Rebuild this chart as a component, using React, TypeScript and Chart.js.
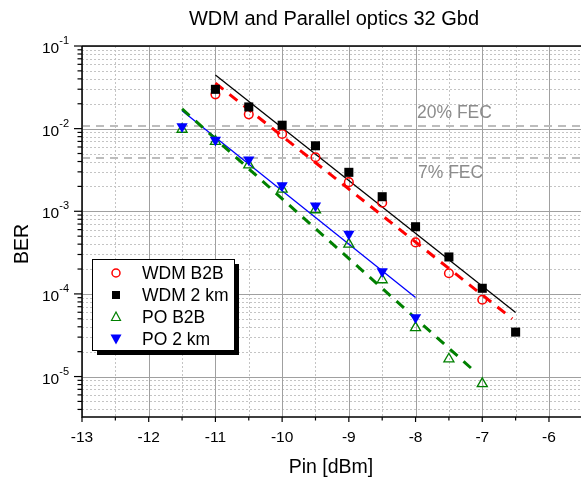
import React, { useEffect, useRef } from "react";
import { Chart, registerables } from "chart.js";

Chart.register(...registerables);

// ---- data ----
const xTicks = [-13, -12.5, -12, -11.5, -11, -10.5, -10, -9.5, -9, -8.5, -8, -7.5, -7, -6.5, -6];
const yTickExps = [-1, -2, -3, -4, -5];

const wdmX = [-11, -10.5, -10, -9.5, -9, -8.5, -8, -7.5, -7];
const wdmB2B = [0.026, 0.0149, 0.0086, 0.0045, 0.00225, 0.00127, 0.00042, 0.000178, 0.000085];

const wdm2kmX = [-11, -10.5, -10, -9.5, -9, -8.5, -8, -7.5, -7, -6.5];
const wdm2km = [0.0299, 0.0183, 0.011, 0.0062, 0.00296, 0.0015, 0.00065, 0.00028, 0.000117, 0.0000345];

const poB2BX = [-11.5, -11, -10.5, -10, -9.5, -9, -8.5, -8, -7.5, -7];
const poB2B = [0.0098, 0.007, 0.00364, 0.00185, 0.00104, 0.0004, 0.000148, 0.000039, 0.0000163, 0.0000082];

const po2kmX = [-11.5, -11, -10.5, -10, -9.5, -9, -8.5, -8];
const po2km = [0.0106, 0.0073, 0.0042, 0.00205, 0.00117, 0.00053, 0.000187, 0.000052];

const fitWdmB2BX = [-11, -6.55];
const fitWdmB2B = [0.0355, 0.00005];
const fitWdm2kmX = [-11, -6.5];
const fitWdm2km = [0.0446, 0.0000596];
const fitPoB2BX = [-11.5, -7.1];
const fitPoB2B = [0.0173, 0.0000113];
const fitPo2kmX = [-11.5, -8];
const fitPo2km = [0.0165, 0.0000906];

const fecLevels = [0.0108, 0.0044];
const fecLabels = ["20% FEC", "7% FEC"];

const legendLabels = ["WDM B2B", "WDM 2 km", "PO B2B", "PO 2 km"];

const FONT = "'Liberation Sans', Arial, sans-serif";

const pts = (xs: number[], ys: number[]) => xs.map((x, i) => ({ x, y: ys[i] }));

function drawMarker(ctx: CanvasRenderingContext2D, kind: number, x: number, y: number) {
  ctx.save();
  ctx.lineWidth = 1.5;
  if (kind === 0) {
    ctx.strokeStyle = "#ff0000";
    ctx.beginPath();
    ctx.arc(x, y, 4, 0, Math.PI * 2);
    ctx.stroke();
  } else if (kind === 1) {
    ctx.fillStyle = "#000";
    ctx.fillRect(x - 4, y - 4, 8, 8);
  } else if (kind === 2) {
    ctx.strokeStyle = "#008000";
    ctx.lineWidth = 1.2;
    ctx.beginPath();
    ctx.moveTo(x, y - 5);
    ctx.lineTo(x + 4.5, y + 3.5);
    ctx.lineTo(x - 4.5, y + 3.5);
    ctx.closePath();
    ctx.stroke();
  } else {
    ctx.fillStyle = "#0000ff";
    ctx.beginPath();
    ctx.moveTo(x, y + 5.5);
    ctx.lineTo(x + 5.5, y - 4.5);
    ctx.lineTo(x - 5.5, y - 4.5);
    ctx.closePath();
    ctx.fill();
  }
  ctx.restore();
}

const decorPlugin = {
  id: "decor",
  beforeDatasetsDraw(chart: any) {
    const ctx: CanvasRenderingContext2D = chart.ctx;
    const xs = chart.scales.x;
    const ys = chart.scales.y;
    const { left, right, top, bottom } = chart.chartArea;
    ctx.save();
    // minor y grid
    ctx.setLineDash([2, 2]);
    ctx.strokeStyle = "#c4c4c4";
    ctx.lineWidth = 1;
    for (let e = -6; e <= -2; e++) {
      for (let m = 2; m <= 9; m++) {
        const v = m * Math.pow(10, e);
        if (v < ys.min || v > ys.max) continue;
        const py = Math.round(ys.getPixelForValue(v)) + 0.5;
        ctx.beginPath();
        ctx.moveTo(left, py);
        ctx.lineTo(right, py);
        ctx.stroke();
      }
    }
    // minor x grid
    xTicks.forEach((v) => {
      if (Number.isInteger(v)) return;
      const px = Math.round(xs.getPixelForValue(v)) + 0.5;
      ctx.beginPath();
      ctx.moveTo(px, top);
      ctx.lineTo(px, bottom);
      ctx.stroke();
    });
    ctx.setLineDash([]);
    ctx.strokeStyle = "#a0a0a0";
    yTickExps.forEach((e) => {
      const py = Math.round(ys.getPixelForValue(Math.pow(10, e))) + 0.5;
      ctx.beginPath();
      ctx.moveTo(left, py);
      ctx.lineTo(right, py);
      ctx.stroke();
    });
    xTicks.forEach((v) => {
      if (!Number.isInteger(v)) return;
      const px = Math.round(xs.getPixelForValue(v)) + 0.5;
      ctx.beginPath();
      ctx.moveTo(px, top);
      ctx.lineTo(px, bottom);
      ctx.stroke();
    });
    // FEC lines
    ctx.strokeStyle = "#bdbdbd";
    ctx.lineWidth = 2;
    ctx.setLineDash([8, 6]);
    fecLevels.forEach((v) => {
      const py = ys.getPixelForValue(v);
      ctx.beginPath();
      ctx.moveTo(left, py);
      ctx.lineTo(right, py);
      ctx.stroke();
    });
    ctx.setLineDash([]);
    // FEC labels
    ctx.fillStyle = "#8c8c8c";
    ctx.font = `17.5px ${FONT}`;
    ctx.textAlign = "left";
    ctx.textBaseline = "middle";
    ctx.fillText(fecLabels[0], 417, 113);
    ctx.fillText(fecLabels[1], 418, 173);
    ctx.restore();
  },
  afterDatasetsDraw(chart: any) {
    const ctx: CanvasRenderingContext2D = chart.ctx;
    const xs = chart.scales.x;
    const ys = chart.scales.y;
    const { left, right, top, bottom } = chart.chartArea;
    ctx.save();
    // axes
    ctx.strokeStyle = "#000";
    ctx.lineWidth = 1.5;
    ctx.beginPath();
    ctx.moveTo(left, top);
    ctx.lineTo(right, top);
    ctx.moveTo(left, top);
    ctx.lineTo(left, bottom);
    ctx.lineTo(right, bottom);
    ctx.stroke();
    // y ticks
    ctx.lineWidth = 1.2;
    for (let e = -6; e <= -1; e++) {
      for (let m = 1; m <= 9; m++) {
        const v = m * Math.pow(10, e);
        if (v < ys.min * 0.999 || v > ys.max * 1.001) continue;
        const py = ys.getPixelForValue(v);
        const len = m === 1 ? 8 : 4.5;
        ctx.beginPath();
        ctx.moveTo(left, py);
        ctx.lineTo(left - len, py);
        ctx.stroke();
      }
    }
    // x ticks
    xTicks.forEach((v) => {
      const px = xs.getPixelForValue(v);
      const len = Number.isInteger(v) ? 5 : 3.5;
      ctx.beginPath();
      ctx.moveTo(px, bottom);
      ctx.lineTo(px, bottom + len);
      ctx.stroke();
    });
    // x tick labels
    ctx.fillStyle = "#000";
    ctx.font = `15.5px ${FONT}`;
    ctx.textAlign = "center";
    ctx.textBaseline = "middle";
    xTicks.forEach((v) => {
      if (!Number.isInteger(v)) return;
      ctx.fillText(String(v), xs.getPixelForValue(v), bottom + 21);
    });
    // y tick labels
    yTickExps.forEach((e) => {
      const py = ys.getPixelForValue(Math.pow(10, e));
      const sup = String(e);
      ctx.font = `11px ${FONT}`;
      const sw = ctx.measureText(sup).width;
      ctx.font = `15.5px ${FONT}`;
      const bw = ctx.measureText("10").width;
      const rightX = 69;
      ctx.textAlign = "left";
      ctx.textBaseline = "alphabetic";
      ctx.fillText("10", rightX - sw - bw, py + 7);
      ctx.font = `11px ${FONT}`;
      ctx.fillText(sup, rightX - sw, py - 2);
    });
    // titles
    ctx.font = `20px ${FONT}`;
    ctx.textAlign = "center";
    ctx.textBaseline = "middle";
    ctx.fillText("WDM and Parallel optics 32 Gbd", 334, 19);
    ctx.font = `19.5px ${FONT}`;
    ctx.fillText("Pin [dBm]", 331, 468);
    ctx.save();
    ctx.translate(23, 244);
    ctx.rotate(-Math.PI / 2);
    ctx.fillText("BER", 0, 0);
    ctx.restore();
    // legend
    const bx = 92, by = 259, bw2 = 142, bh = 91;
    ctx.fillStyle = "#000";
    ctx.fillRect(bx + 5, by + 5, bw2, bh);
    ctx.fillStyle = "#fff";
    ctx.fillRect(bx, by, bw2, bh);
    ctx.strokeStyle = "#000";
    ctx.lineWidth = 1;
    ctx.strokeRect(bx + 0.5, by + 0.5, bw2, bh);
    ctx.font = `17.5px ${FONT}`;
    ctx.textAlign = "left";
    ctx.textBaseline = "middle";
    legendLabels.forEach((lab, i) => {
      const ly = 273 + i * 22;
      drawMarker(ctx, i, 116, ly);
      ctx.fillStyle = "#000";
      ctx.fillText(lab, 142, ly + 1);
    });
    ctx.restore();
  },
};

export default function App() {
  const ref = useRef<HTMLCanvasElement | null>(null);
  useEffect(() => {
    if (!ref.current) return;
    const lineDs = (xs: number[], ys: number[], color: string, width: number, dash: number[]) => ({
      data: pts(xs, ys),
      showLine: true,
      borderColor: color,
      borderWidth: width,
      borderDash: dash,
      pointRadius: 0,
      fill: false,
      order: 5,
    });
    const chart = new Chart(ref.current, {
      type: "scatter",
      data: {
        datasets: [
          lineDs(fitWdmB2BX, fitWdmB2B, "#ff0000", 3, [10, 8]),
          lineDs(fitWdm2kmX, fitWdm2km, "#000000", 1.3, []),
          lineDs(fitPoB2BX, fitPoB2B, "#008000", 3, [10, 8]),
          lineDs(fitPo2kmX, fitPo2km, "#0000ff", 1.3, []),
          {
            data: pts(wdmX, wdmB2B),
            pointStyle: "circle",
            pointRadius: 4.3,
            borderColor: "#ff0000",
            backgroundColor: "rgba(0,0,0,0)",
            borderWidth: 1.5,
            order: 4,
          },
          {
            data: pts(wdm2kmX, wdm2km),
            pointStyle: "rect",
            pointRadius: 6.4,
            borderColor: "#000",
            backgroundColor: "#000",
            borderWidth: 0,
            order: 3,
          },
          {
            data: pts(poB2BX, poB2B),
            pointStyle: "triangle",
            pointRadius: 5.8,
            borderColor: "#008000",
            backgroundColor: "rgba(0,0,0,0)",
            borderWidth: 1.3,
            order: 2,
          },
          {
            data: pts(po2kmX, po2km),
            pointStyle: "triangle",
            rotation: 180,
            pointRadius: 6.5,
            borderColor: "#0000ff",
            backgroundColor: "#0000ff",
            borderWidth: 0,
            order: 1,
          },
        ] as any,
      },
      options: {
        animation: false,
        responsive: false,
        layout: { autoPadding: false, padding: { left: 82, top: 46, right: 0, bottom: 60 } },
        plugins: { legend: { display: false }, tooltip: { enabled: false }, title: { display: false } },
        scales: {
          x: { type: "linear", min: -13, max: -5.52, display: false },
          y: { type: "logarithmic", min: 3.24e-6, max: 0.1, display: false },
        },
      },
      plugins: [decorPlugin],
    });
    return () => chart.destroy();
  }, []);
  return (
    <div style={{ position: "fixed", left: 0, top: 0, width: 581, height: 477, background: "#fff" }}>
      <canvas ref={ref} width={581} height={477} style={{ width: 581, height: 477 }} />
    </div>
  );
}
